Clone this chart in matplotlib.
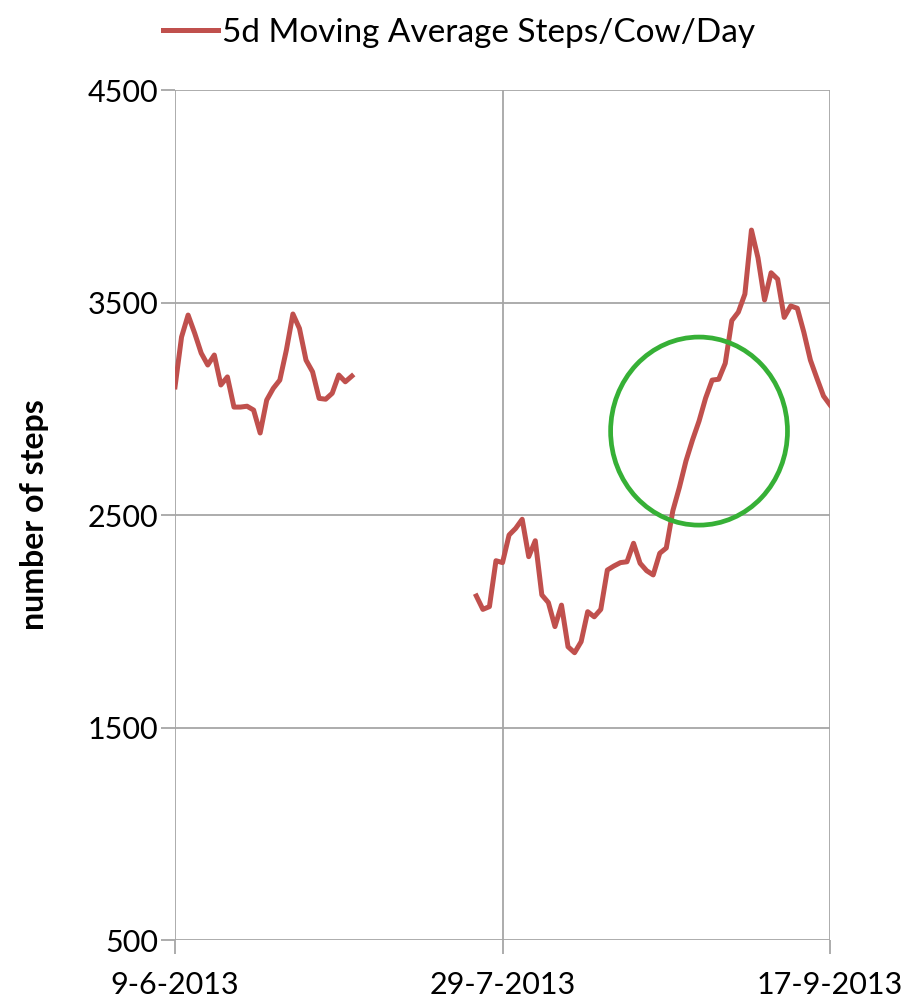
import numpy as np
import pandas as pd
import matplotlib
matplotlib.use("Agg")
import matplotlib.pyplot as plt
from matplotlib.patches import Ellipse

plt.rcParams['font.family'] = ['Lato', 'DejaVu Sans']

# daily 5-day moving average of steps per cow, 9 June - 17 September 2013
start_date = '2013-06-09'
n_days = 101

# first block: 9 June onwards (days 0-27)
steps_june = [3103, 3338, 3441, 3356, 3262, 3206, 3253, 3112, 3150, 3008,
              3008, 3012, 2994, 2886, 3041, 3096, 3135, 3276, 3446, 3378,
              3229, 3174, 3049, 3045, 3073, 3159, 3127, 3154]
june_offset = 0

# second block: days 46-100
steps_aug = [2119, 2056, 2069, 2285, 2276, 2406, 2437, 2480, 2304, 2379,
             2124, 2088, 1975, 2076, 1880, 1852, 1904, 2045, 2021, 2056,
             2241, 2260, 2276, 2280, 2367, 2273, 2238, 2218, 2320, 2345,
             2520, 2630, 2754, 2853, 2942, 3050, 3135, 3139, 3214, 3415,
             3455, 3540, 3841, 3710, 3512, 3640, 3610, 3430, 3484, 3473,
             3360, 3229, 3143, 3060, 3018]
aug_offset = 46

tick_dates = ['2013-06-09', '2013-07-29', '2013-09-17']
tick_labels = ['9-6-2013', '29-7-2013', '17-9-2013']
y_ticks = [500, 1500, 2500, 3500, 4500]

# highlighted region (steep rise)
circle_center = ('2013-08-28', 2895)
circle_width_days = 27
circle_height = 885

dates = pd.date_range(start_date, periods=n_days)
steps = np.full(n_days, np.nan)
steps[june_offset:june_offset + len(steps_june)] = steps_june
steps[aug_offset:aug_offset + len(steps_aug)] = steps_aug

fig = plt.figure(figsize=(9.23, 10.06), dpi=100)
ax = fig.add_axes([0.1896, 0.0656, 0.7097, 0.8449])

line, = ax.plot(dates, steps, color='#C0504D', lw=3.6,
                solid_joinstyle='round',
                label='5d Moving Average Steps/Cow/Day')

cx = matplotlib.dates.date2num(pd.Timestamp(circle_center[0]))
ax.add_patch(Ellipse((cx, circle_center[1]), circle_width_days, circle_height,
                     fill=False, edgecolor='#36B036', lw=3.4, zorder=3))

ax.set_ylim(500, 4500)
ax.set_xlim(dates[0], dates[-1])
ax.set_yticks(y_ticks)
ax.set_xticks(pd.to_datetime(tick_dates))
ax.set_xticklabels(tick_labels)

for s in ax.spines.values():
    s.set_visible(False)
ax.grid(True, color='#A6A6A6', lw=1.3)
ax.set_axisbelow(True)
ax.tick_params(axis='both', color='#A6A6A6', width=1.3, length=10,
               labelsize=22)
ax.tick_params(axis='y', pad=2)
ax.tick_params(axis='x', pad=12)

ax.set_ylabel('number of steps', fontsize=23, fontweight='bold', labelpad=28)

fig.legend(handles=[line], loc='upper center', bbox_to_anchor=(0.497, 1.012),
           frameon=False, fontsize=24, handlelength=1.65, handletextpad=0.12)

fig.savefig('out.png', dpi=100)
